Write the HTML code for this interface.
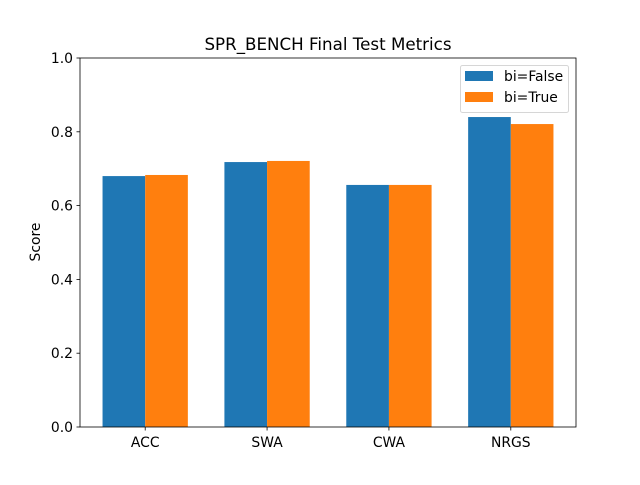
<!DOCTYPE html>
<html><head><meta charset="utf-8"><style>
body{margin:0;background:#fff;}
svg text{font-family:"DejaVu Sans","Liberation Sans",sans-serif;}
</style></head><body>
<svg id="chart" width="640" height="480" xmlns="http://www.w3.org/2000/svg">
<rect width="640" height="480" fill="#fff"/>
<text x="328" y="50" font-size="16.7" text-anchor="middle">SPR_BENCH Final Test Metrics</text>
<g id="bars"></g>
<g id="axes"></g>
<text transform="translate(40,242) rotate(-90)" font-size="13.9" text-anchor="middle">Score</text>
<g>
<rect x="460.5" y="65.5" width="108" height="47" rx="2" fill="#fff" stroke="#ccc" opacity="0.8"/>
<rect x="465" y="71" width="28" height="10" fill="#1f77b4"/>
<text x="504" y="81" font-size="13.9">bi=False</text>
<rect x="465" y="92" width="28" height="10" fill="#ff7f0e"/>
<text x="504" y="102" font-size="13.9">bi=True</text>
</g>
</svg>
<script>
const categories=["ACC","SWA","CWA","NRGS"];
const valuesFalse=[0.680,0.718,0.656,0.840];
const valuesTrue=[0.683,0.721,0.656,0.821];
const yTicks=[0,0.2,0.4,0.6,0.8,1.0];
const yTickLabels=["0.0","0.2","0.4","0.6","0.8","1.0"];
const L=80,R=576,T=58,B=427,W=0.35;
const xmin=-0.535,xmax=categories.length-1+0.535;
const xs=v=>L+(v-xmin)/(xmax-xmin)*(R-L);
const ys=v=>B-v*(B-T);
const NS="http://www.w3.org/2000/svg";
const bars=document.getElementById('bars'),axes=document.getElementById('axes');
function mk(p,tag,attrs){const e=document.createElementNS(NS,tag);for(const k in attrs)e.setAttribute(k,attrs[k]);p.appendChild(e);return e;}
categories.forEach((c,i)=>{
  [[valuesFalse,'#1f77b4',-W/2,'false'],[valuesTrue,'#ff7f0e',W/2,'true']].forEach(([arr,col,off,s])=>{
    const x0=xs(i+off-W/2),x1=xs(i+off+W/2);
    const r=mk(bars,'rect',{x:x0,y:ys(arr[i]),width:x1-x0,height:B-ys(arr[i]),fill:col});
    
    
  });
  mk(axes,'line',{x1:xs(i),x2:xs(i),y1:B,y2:B+3.5,stroke:'#000','stroke-width':0.8});
  const t=mk(axes,'text',{x:xs(i),y:B+20,'font-size':13.9,'text-anchor':'middle'});
  t.textContent=c;
  
  
});
yTicks.forEach((v,i)=>{
  mk(axes,'line',{x1:L-3.5,x2:L,y1:ys(v),y2:ys(v),stroke:'#000','stroke-width':0.8});
  const t=mk(axes,'text',{x:L-7,y:ys(v)+5,'font-size':13.9,'text-anchor':'end'});
  t.textContent=yTickLabels[i];
  
  
});
const fr=mk(axes,'rect',{x:L,y:T,width:R-L,height:B-T,fill:'none',stroke:'#000','stroke-width':0.8});


</script>
</body></html>
